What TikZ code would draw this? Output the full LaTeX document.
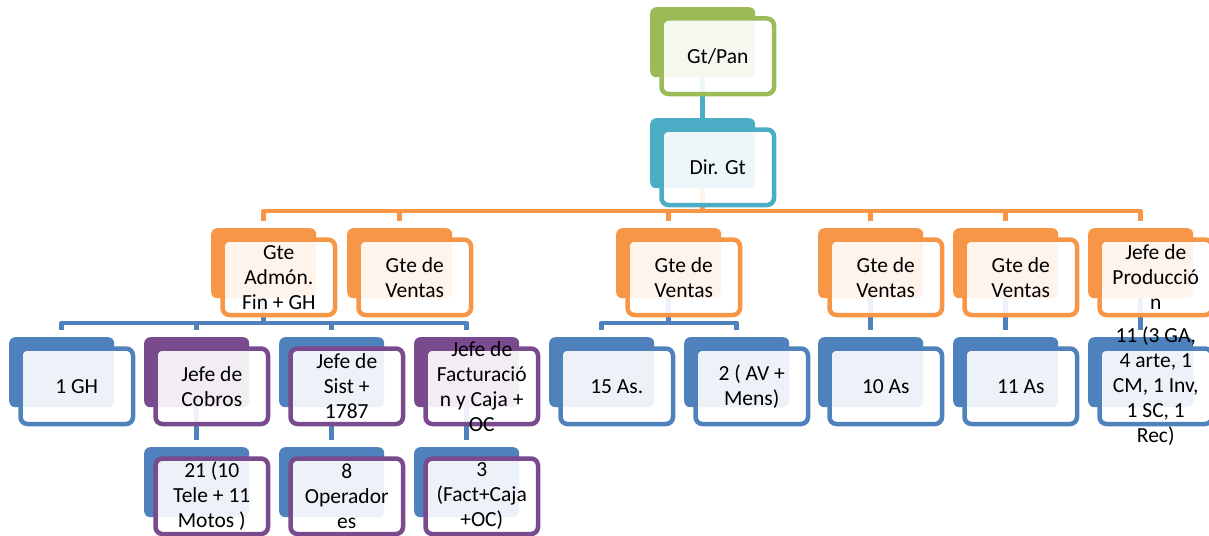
\documentclass[tikz,border=0pt]{standalone}
\usepackage{fontspec}
\setmainfont{Carlito}
\usetikzlibrary{calc}
\pgfdeclarelayer{bg}
\pgfsetlayers{bg,main}

\definecolor{cgreen}{HTML}{9BBB59}
\definecolor{cteal}{HTML}{4BACC6}
\definecolor{corange}{HTML}{F79646}
\definecolor{cblue}{HTML}{4F81BD}
\definecolor{cpurple}{HTML}{794A8D}

\tikzset{
  backbox/.style={fill=#1, draw=none, rounded corners=6pt, minimum width=105pt,
    minimum height=70pt, inner sep=0pt, anchor=north west},
  frontbox/.style={draw=#1, line width=4.5pt, fill=white, fill opacity=0.9,
    rounded corners=7pt, minimum width=112.5pt, minimum height=75.5pt,
    inner sep=0pt, anchor=north west},
  lbl/.style={font=\fontsize{21.5}{25}\selectfont, align=center, inner sep=0pt, text=black},
  orgline/.style={draw=#1, line width=4.5pt, line join=round},
}

% one chart unit: name, left, top, shadow colour, frame colour, label
\newcommand{\orgunit}[6]{%
  \node[backbox=#4] (#1) at (#2,#3) {};
  \node[frontbox=#5] (#1f) at ($(#2,#3)+(9.25,9.25)$) {};
  \node[lbl] (#1t) at (#1f.center) {#6};
}

\begin{document}
\begin{tikzpicture}[x=1pt, y=-1pt]
\useasboundingbox (0,0) rectangle (1209,535);

% top
\orgunit{gtpan}{650}{7}{cgreen}{cgreen}{Gt/Pan}
\orgunit{dir}{650}{118}{cteal}{cteal}{Dir. Gt}

% managers
\orgunit{adm}{211}{228}{corange}{corange}{Gte\\Admón.\\Fin + GH}
\orgunit{vA}{347}{228}{corange}{corange}{Gte de\\Ventas}
\orgunit{vB}{616}{228}{corange}{corange}{Gte de\\Ventas}
\orgunit{vC}{818}{228}{corange}{corange}{Gte de\\Ventas}
\orgunit{vD}{953}{228}{corange}{corange}{Gte de\\Ventas}
\orgunit{prod}{1088}{228}{corange}{corange}{Jefe de\\Producció\\n}

% third level
\orgunit{gh}{9}{337}{cblue}{cblue}{1 GH}
\orgunit{cob}{144}{337}{cpurple}{cpurple}{Jefe de\\Cobros}
\orgunit{sist}{279}{337}{cblue}{cpurple}{Jefe de\\Sist +\\1787}
\orgunit{fact}{414}{337}{cpurple}{cpurple}{Jefe de\\Facturació\\n y Caja +\\OC}
\orgunit{asA}{549}{337}{cblue}{cblue}{15 As.}
\orgunit{av}{684}{337}{cblue}{cblue}{2 ( AV +\\Mens)}
\orgunit{asB}{818}{337}{cblue}{cblue}{10 As}
\orgunit{asC}{953}{337}{cblue}{cblue}{11 As}
\orgunit{gen}{1088}{337}{cblue}{cblue}{11 (3 GA,\\4 arte, 1\\CM, 1 Inv,\\1 SC, 1\\Rec)}

% fourth level
\orgunit{tele}{144}{447}{cblue}{cpurple}{21 (10\\Tele + 11\\Motos )}
\orgunit{oper}{279}{447}{cblue}{cpurple}{8\\Operador\\es}
\orgunit{caja}{414}{447}{cblue}{cpurple}{3\\(Fact+Caja\\+OC)}

\begin{pgfonlayer}{bg}
  \coordinate (bar2) at (0,211);
  \coordinate (bar3) at (0,323);
  \draw[orgline=cteal] (gtpan.south) -- (dir.north);
  \draw[orgline=corange] (dir.south) -- (dir.south |- bar2);
  \draw[orgline=corange] ($(adm.north)+(0,-7)$) -- (adm.north |- bar2)
    -- (prod.north |- bar2) -- ($(prod.north)+(0,-7)$);
  \foreach \n in {vA,vB,vC,vD}
    \draw[orgline=corange] ($(\n.north)+(0,-7)$) -- (\n.north |- bar2);

  \draw[orgline=cblue] (adm.south) -- (adm.south |- bar3);
  \draw[orgline=cblue] ($(gh.north)+(0,-7)$) -- (gh.north |- bar3)
    -- (fact.north |- bar3) -- ($(fact.north)+(0,-7)$);
  \foreach \n in {cob,sist}
    \draw[orgline=cblue] ($(\n.north)+(0,-7)$) -- (\n.north |- bar3);

  \draw[orgline=cblue] (vB.south) -- (vB.south |- bar3);
  \draw[orgline=cblue] ($(asA.north)+(0,-7)$) -- (asA.north |- bar3)
    -- (av.north |- bar3) -- ($(av.north)+(0,-7)$);
  \draw[orgline=cblue] (vC.south) -- ($(asB.north)+(0,-7)$);
  \draw[orgline=cblue] (vD.south) -- ($(asC.north)+(0,-7)$);
  \draw[orgline=cblue] (prod.south) -- ($(gen.north)+(0,-7)$);

  \draw[orgline=cblue] (cob.south) -- ($(tele.north)+(0,-7)$);
  \draw[orgline=cblue] (sist.south) -- ($(oper.north)+(0,-7)$);
  \draw[orgline=cblue] (fact.south) -- ($(caja.north)+(0,-7)$);
\end{pgfonlayer}
\end{tikzpicture}
\end{document}
